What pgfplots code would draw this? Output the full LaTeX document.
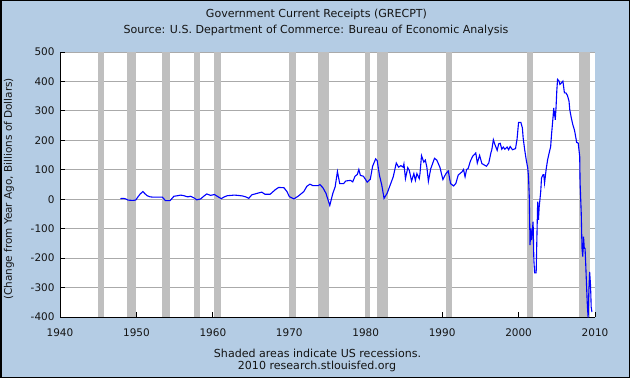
\documentclass[border=0pt]{standalone}
\usepackage{pgfplots}
\pgfplotsset{compat=1.18}
\usepackage{fontspec}
\setmainfont{DejaVu Sans}
\definecolor{bgblue}{RGB}{180,204,228}
\definecolor{recgray}{RGB}{191,191,191}
\definecolor{gridgray}{RGB}{170,170,170}
\definecolor{txt}{RGB}{20,20,20}
\pgfplotstableread{
year val
1947.9 2
1948.3 3
1948.6 1
1948.9 -3
1949.5 -4
1949.9 -3
1950.2 8
1950.5 18
1950.85 26
1951.1 19
1951.4 12
1951.8 8
1952.2 7
1952.8 7
1953.4 7
1953.8 -5
1954.4 -5
1954.9 10
1955.4 12
1955.8 14
1956.2 12
1956.7 8
1957.1 10
1957.5 5
1957.9 -2
1958.4 1
1958.8 10
1959.2 18
1959.7 13
1960.2 16
1960.7 8
1961.1 2
1961.5 8
1961.9 12
1962.4 13
1962.8 14
1963.3 13
1963.9 11
1964.3 8
1964.7 3
1965.1 15
1965.8 20
1966.4 24
1966.8 17
1967.5 17
1968.2 33
1968.6 40
1969.3 39
1969.7 26
1970.0 9
1970.6 1
1971.2 11
1971.9 26
1972.3 44
1972.7 51
1973.1 46
1973.8 46
1974.0 50
1974.4 39
1974.8 20
1975.3 -21
1975.7 20
1976.0 42
1976.3 94
1976.6 53
1977.1 53
1977.4 62
1978.0 64
1978.3 59
1978.6 78
1978.9 84
1979.1 101
1979.3 81
1979.7 78
1980.2 58
1980.6 68
1980.9 112
1981.3 137
1981.5 131
1981.8 81
1982.1 48
1982.4 3
1982.8 20
1983.2 48
1983.6 76
1984.0 123
1984.3 109
1984.6 114
1984.9 109
1985.0 120
1985.2 70
1985.5 107
1985.7 98
1986.0 62
1986.3 87
1986.5 64
1986.7 87
1987.0 70
1987.1 87
1987.3 148
1987.6 126
1987.8 133
1988.0 109
1988.2 61
1988.5 103
1989.0 139
1989.3 133
1989.7 109
1990.1 67
1990.5 87
1990.8 96
1991.1 53
1991.5 45
1991.8 54
1992.1 82
1992.6 93
1992.8 101
1993.0 76
1993.2 101
1993.4 104
1993.7 130
1994.0 146
1994.4 157
1994.6 123
1994.9 149
1995.2 121
1995.8 112
1996.1 123
1996.4 160
1996.5 168
1996.7 202
1996.9 186
1997.2 166
1997.4 188
1997.6 190
1997.8 170
1998.0 177
1998.2 170
1998.5 177
1998.7 168
1998.9 179
1999.2 168
1999.6 172
1999.8 204
2000.0 261
2000.3 261
2000.5 242
2000.6 208
2000.8 168
2001.0 134
2001.2 106
2001.3 77
2001.4 9
2001.5 -156
2001.6 -99
2001.7 -139
2001.9 -76
2002.0 -207
2002.1 -250
2002.3 -250
2002.4 -127
2002.5 -8
2002.6 -70
2002.7 -25
2002.9 26
2003.0 72
2003.2 83
2003.3 83
2003.4 55
2003.6 100
2003.8 134
2004.0 157
2004.2 179
2004.3 216
2004.5 276
2004.6 310
2004.65 282
2004.7 299
2004.8 270
2004.9 310
2005.0 367
2005.1 407
2005.3 401
2005.4 390
2005.6 395
2005.8 401
2006.0 361
2006.2 361
2006.4 352
2006.6 333
2006.7 304
2006.9 276
2007.1 253
2007.3 236
2007.4 223
2007.6 193
2007.8 191
2008.0 145
2008.05 55
2008.2 -48
2008.3 -167
2008.4 -195
2008.5 -127
2008.6 -167
2008.7 -167
2008.8 -229
2008.9 -298
2009.0 -360
2009.1 -402
2009.2 -309
2009.3 -247
2009.4 -286
2009.45 -320
2009.5 -366
2009.6 -383
}\grecpt
\begin{document}
\begin{tikzpicture}[font=\fontsize{10.5}{12}\selectfont]
\useasboundingbox (0,0) rectangle (630bp,378bp);
\fill[bgblue] (0,0) rectangle (630bp,378bp);
\draw[black,line width=1.5bp] (0.75bp,0.75bp) rectangle (629.25bp,377.25bp);
\begin{scope}[font=\fontsize{11.1}{13}\selectfont]
\node[txt] at (316.5bp,364bp) {Government Current Receipts (GRECPT)};
\node[txt] at (316bp,348bp) {Source: U.S. Department of Commerce: Bureau of Economic Analysis};
\node[txt] at (317.5bp,24.6bp) {Shaded areas indicate US recessions.};
\node[txt] at (317bp,11.5bp) {2010 research.stlouisfed.org};
\end{scope}
\node[txt,rotate=90] at (9bp,189bp) {(Change from Year Ago, Billions of Dollars)};
\begin{axis}[
  at={(60bp,61bp)}, anchor=south west,
  scale only axis, width=535bp, height=265bp,
  xmin=1940, xmax=2010, ymin=-400, ymax=500,
  axis lines*=left,
  axis line style={black, line width=0.8bp},
  axis background/.style={fill=white},
  xtick={1940,1950,1960,1970,1980,1990,2000,2010},
  xticklabels={1940,1950,1960,1970,1980,1990,2000,2010},
  ytick={-400,-300,-200,-100,0,100,200,300,400,500},
  yticklabels={-400,-300,-200,-100,0,100,200,300,400,500},
  tick align=inside,
  major tick length=5bp,
  tick style={black, line width=0.8bp},
  ymajorgrids,
  grid style={gridgray, line width=0.9bp},
  xticklabel style={text=txt, yshift=-8bp},
  yticklabel style={text=txt, xshift=-2bp},
]
\addplot[fill=recgray,draw=none] coordinates {(1945.0,-400) (1945.0,500) (1945.8,500) (1945.8,-400)} -- cycle;
\addplot[fill=recgray,draw=none] coordinates {(1948.8,-400) (1948.8,500) (1949.9,500) (1949.9,-400)} -- cycle;
\addplot[fill=recgray,draw=none] coordinates {(1953.4,-400) (1953.4,500) (1954.4,500) (1954.4,-400)} -- cycle;
\addplot[fill=recgray,draw=none] coordinates {(1957.5,-400) (1957.5,500) (1958.3,500) (1958.3,-400)} -- cycle;
\addplot[fill=recgray,draw=none] coordinates {(1960.1,-400) (1960.1,500) (1961.1,500) (1961.1,-400)} -- cycle;
\addplot[fill=recgray,draw=none] coordinates {(1969.9,-400) (1969.9,500) (1970.9,500) (1970.9,-400)} -- cycle;
\addplot[fill=recgray,draw=none] coordinates {(1973.7,-400) (1973.7,500) (1975.2,500) (1975.2,-400)} -- cycle;
\addplot[fill=recgray,draw=none] coordinates {(1979.9,-400) (1979.9,500) (1980.6,500) (1980.6,-400)} -- cycle;
\addplot[fill=recgray,draw=none] coordinates {(1981.5,-400) (1981.5,500) (1982.9,500) (1982.9,-400)} -- cycle;
\addplot[fill=recgray,draw=none] coordinates {(1990.5,-400) (1990.5,500) (1991.3,500) (1991.3,-400)} -- cycle;
\addplot[fill=recgray,draw=none] coordinates {(2001.1,-400) (2001.1,500) (2001.9,500) (2001.9,-400)} -- cycle;
\addplot[fill=recgray,draw=none] coordinates {(2007.9,-400) (2007.9,500) (2009.3,500) (2009.3,-400)} -- cycle;
\addplot[color={rgb,255:red,0;green,0;blue,255}, line width=1.1bp] table[x=year,y=val] {\grecpt};
\end{axis}
\end{tikzpicture}
\end{document}
